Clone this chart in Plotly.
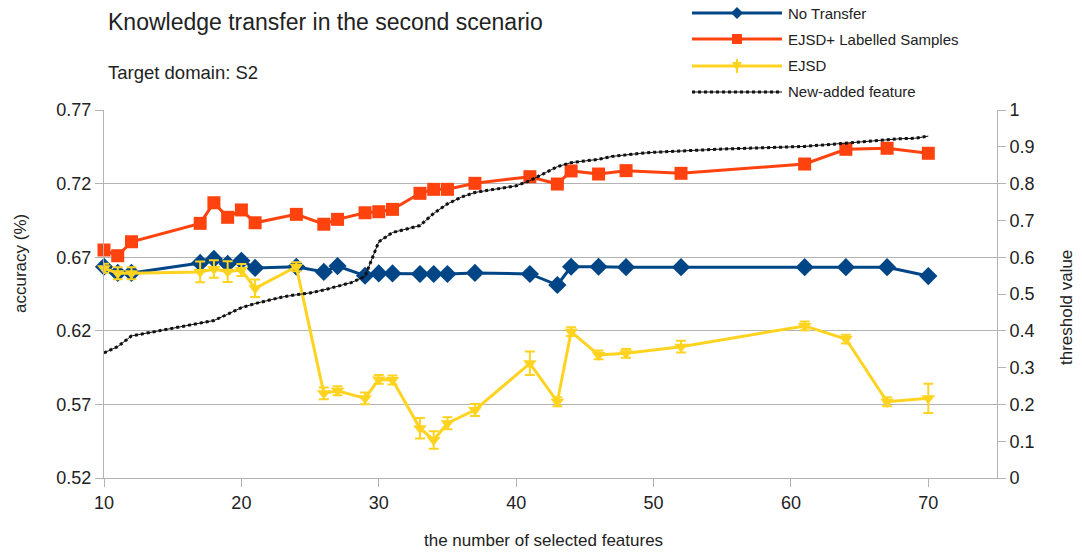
import plotly.graph_objects as go

# Number of selected features at which each accuracy was measured
features = [10, 11, 12, 17, 18, 19, 20, 21, 24, 26, 27, 29, 30, 31,
            33, 34, 35, 37, 41, 43, 44, 46, 48, 52, 61, 64, 67, 70]

# Accuracy (left axis)
no_transfer = [0.6635, 0.6593, 0.6593, 0.6661, 0.6688, 0.6654, 0.6676, 0.6627,
               0.6635, 0.6600, 0.6640, 0.6574, 0.6590, 0.6590, 0.6586, 0.6586,
               0.6586, 0.6593, 0.6586, 0.6511, 0.6635, 0.6635, 0.6632, 0.6632,
               0.6632, 0.6632, 0.6632, 0.6572]
ejsd_labelled = [0.6749, 0.6710, 0.6805, 0.6930, 0.7070, 0.6971, 0.7021, 0.6934,
                 0.6991, 0.6924, 0.6957, 0.7002, 0.7009, 0.7025, 0.7134, 0.7161,
                 0.7161, 0.7202, 0.7247, 0.7197, 0.7286, 0.7265, 0.7288, 0.7270,
                 0.7333, 0.7433, 0.7440, 0.7406]
ejsd = [0.6625, 0.6591, 0.6591, 0.6600, 0.6620, 0.6602, 0.6613, 0.6489,
        0.6635, 0.5775, 0.5793, 0.5741, 0.5870, 0.5866, 0.5538, 0.5458,
        0.5572, 0.5662, 0.5979, 0.5718, 0.6194, 0.6036, 0.6047, 0.6092,
        0.6233, 0.6144, 0.5718, 0.5741]
ejsd_err = [0.003, 0.004, 0.004, 0.007, 0.006, 0.007, 0.004, 0.006,
            0.003, 0.004, 0.003, 0.004, 0.003, 0.003, 0.007, 0.006,
            0.004, 0.004, 0.008, 0.003, 0.003, 0.003, 0.003, 0.004,
            0.003, 0.003, 0.003, 0.010]

# Threshold of the newly added feature (right axis)
threshold_x = list(range(10, 71))
threshold = [0.340, 0.357, 0.386, 0.393, 0.399, 0.406, 0.412, 0.419, 0.428, 0.445,
             0.463, 0.474, 0.483, 0.492, 0.498, 0.503, 0.511, 0.522, 0.531, 0.548,
             0.642, 0.667, 0.677, 0.686, 0.719, 0.745, 0.763, 0.776, 0.782, 0.788,
             0.794, 0.808, 0.828, 0.846, 0.857, 0.861, 0.866, 0.874, 0.879, 0.882,
             0.885, 0.887, 0.889, 0.891, 0.893, 0.894, 0.895, 0.896, 0.897, 0.898,
             0.899, 0.901, 0.904, 0.907, 0.911, 0.914, 0.918, 0.921, 0.922, 0.923,
             0.929]

series_names = ["No Transfer", "EJSD+ Labelled Samples", "EJSD", "New-added feature"]
BLUE, RED, YELLOW, BLACK = "#004586", "#ff420e", "#ffd320", "#111111"
GRID = "#b3b3b3"
FONT = "Liberation Sans, Arial, sans-serif"

W, H = 1082, 553
ML, MR, MT, MB = 104, 85, 110, 75
PW, PH = W - ML - MR, H - MT - MB


def px(x):
    return (x - ML) / PW


def py(y):
    return (H - MB - y) / PH


fig = go.Figure()
fig.add_trace(go.Scatter(
    x=features, y=no_transfer, mode="lines+markers", name=series_names[0],
    line=dict(color=BLUE, width=3), cliponaxis=False,
    marker=dict(symbol="diamond", size=14, color=BLUE)))
fig.add_trace(go.Scatter(
    x=features, y=ejsd_labelled, mode="lines+markers", name=series_names[1],
    line=dict(color=RED, width=3), cliponaxis=False,
    marker=dict(symbol="square", size=13, color=RED)))
fig.add_trace(go.Scatter(
    x=features, y=ejsd, mode="lines+markers", name=series_names[2],
    line=dict(color=YELLOW, width=3), cliponaxis=False,
    marker=dict(symbol="triangle-down", size=12, color=YELLOW),
    error_y=dict(type="data", array=ejsd_err, color=YELLOW, thickness=2, width=5)))
# thin connecting line under the beaded threshold curve
fig.add_trace(go.Scatter(
    x=threshold_x, y=threshold, mode="lines", name=series_names[3], yaxis="y2",
    line=dict(color=BLACK, width=1), showlegend=False))
fig.add_trace(go.Scatter(
    x=threshold_x, y=threshold, mode="lines", name=series_names[3], yaxis="y2",
    line=dict(color=BLACK, width=3, dash="dot")))

axis_common = dict(showline=True, linecolor=GRID, linewidth=1, ticks="outside",
                   tickcolor=GRID, ticklen=8, zeroline=False,
                   tickfont=dict(family=FONT, size=18, color="#222"))

fig.update_layout(
    width=W, height=H,
    margin=dict(l=ML, r=MR, t=MT, b=MB),
    paper_bgcolor="white", plot_bgcolor="white",
    showlegend=False,
    font=dict(family=FONT, color="#222"),
    xaxis=dict(range=[10, 75], tick0=10, dtick=10, showgrid=False, **axis_common),
    yaxis=dict(range=[0.52, 0.77], tick0=0.52, dtick=0.05, tickformat=".2f",
               showgrid=True, gridcolor=GRID, gridwidth=1, **axis_common),
    yaxis2=dict(range=[0, 1], tick0=0, dtick=0.1, overlaying="y", side="right",
                showgrid=False, **axis_common),
)

annotations = [
    dict(text="Knowledge transfer in the second scenario", x=px(106), y=py(22),
         font=dict(size=23)),
    dict(text="Target domain: S2", x=px(106), y=py(72), font=dict(size=18.5)),
    dict(text="the number of selected features", x=px(543), y=py(540),
         xanchor="center", font=dict(size=17)),
    dict(text="accuracy (%)", x=px(20), y=py(264), xanchor="center",
         textangle=-90, font=dict(size=17)),
    dict(text="threshold value", x=px(1066), y=py(308), xanchor="center",
         textangle=-90, font=dict(size=17)),
]
for a in annotations:
    a.setdefault("xanchor", "left")
    fig.add_annotation(xref="paper", yref="paper", yanchor="middle",
                       showarrow=False, **a)

# Legend key drawn in the top-right corner
shapes = []
rows = [13, 39, 66, 92]
colors = [BLUE, RED, YELLOW, BLACK]
x0, x1, xm = 692, 782, 737
for name, row, col in zip(series_names, rows, colors):
    if col == BLACK:
        shapes.append(dict(type="line", xref="paper", yref="paper",
                           x0=px(x0), x1=px(x1), y0=py(row), y1=py(row),
                           line=dict(color=col, width=1)))
    dash = "dot" if col == BLACK else "solid"
    shapes.append(dict(type="line", xref="paper", yref="paper",
                       x0=px(x0), x1=px(x1), y0=py(row), y1=py(row),
                       line=dict(color=col, width=3, dash=dash)))
    fig.add_annotation(xref="paper", yref="paper", x=px(786), y=py(row),
                       xanchor="left", yanchor="middle", showarrow=False,
                       text=name, font=dict(size=15))

s = 6
# diamond
shapes.append(dict(type="path", xref="paper", yref="paper", fillcolor=BLUE,
                   line=dict(width=0),
                   path=f"M{px(xm - s)},{py(rows[0])} L{px(xm)},{py(rows[0] - s)} "
                        f"L{px(xm + s)},{py(rows[0])} L{px(xm)},{py(rows[0] + s)} Z"))
# square
shapes.append(dict(type="rect", xref="paper", yref="paper", fillcolor=RED,
                   line=dict(width=0),
                   x0=px(xm - 5), x1=px(xm + 5), y0=py(rows[1] - 5), y1=py(rows[1] + 5)))
# triangle with error cap
shapes.append(dict(type="path", xref="paper", yref="paper", fillcolor=YELLOW,
                   line=dict(width=0),
                   path=f"M{px(xm - 5)},{py(rows[2] - 4)} L{px(xm + 5)},{py(rows[2] - 4)} "
                        f"L{px(xm)},{py(rows[2] + 5)} Z"))
shapes.append(dict(type="line", xref="paper", yref="paper",
                   x0=px(xm), x1=px(xm), y0=py(rows[2] - 7), y1=py(rows[2] + 7),
                   line=dict(color=YELLOW, width=2)))
fig.update_layout(shapes=shapes)

fig.write_html("out.html")
